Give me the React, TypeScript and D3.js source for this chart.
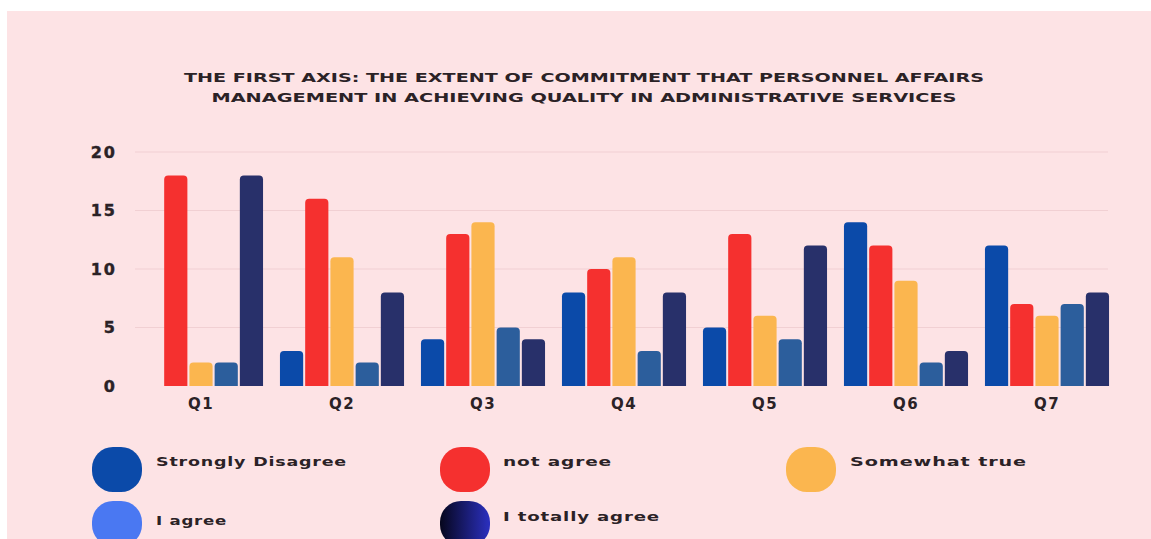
import React from "react";
import * as d3 from "d3";

const categories = ["Q1", "Q2", "Q3", "Q4", "Q5", "Q6", "Q7"];
const seriesNames = ["Strongly Disagree", "not agree", "Somewhat true", "I agree", "I totally agree"];
const stronglyDisagree = [0, 3, 4, 8, 5, 14, 12];
const notAgree = [18, 16, 13, 10, 13, 12, 7];
const somewhatTrue = [2, 11, 14, 11, 6, 9, 6];
const iAgree = [2, 2, 5, 3, 4, 2, 7];
const iTotallyAgree = [18, 8, 4, 8, 12, 3, 8];
const yTicks = [0, 5, 10, 15, 20];
const titleLines = [
  "THE FIRST AXIS: THE EXTENT OF COMMITMENT THAT PERSONNEL AFFAIRS",
  "MANAGEMENT IN ACHIEVING QUALITY IN ADMINISTRATIVE SERVICES",
];

const seriesValues = [stronglyDisagree, notAgree, somewhatTrue, iAgree, iTotallyAgree];
const barColors = ["#0b4aa9", "#f5302f", "#fbb64f", "#2c5e9c", "#28306a"];
const legendColors = ["#0b4aa9", "#f5302f", "#fbb64f", "#4a78f2", "url(#navyGrad)"];

const W = 1151;
const H = 539;
const FONT = "'DejaVu Sans', Verdana, sans-serif";
const TEXT = "#2b2226";

function topRounded(x: number, y: number, w: number, h: number, r: number) {
  if (h <= 0) return "";
  const rr = Math.min(r, h, w / 2);
  return `M${x},${y + h}V${y + rr}Q${x},${y} ${x + rr},${y}H${x + w - rr}Q${x + w},${y} ${x + w},${y + rr}V${y + h}Z`;
}

export default function App() {
  const y = d3.scaleLinear().domain([0, 20]).range([386, 152]);
  const x0 = d3
    .scaleBand<string>()
    .domain(categories)
    .range([130.5, 1117.5])
    .paddingInner(0.12)
    .paddingOuter(0.06);
  const x1 = d3
    .scaleBand<string>()
    .domain(seriesNames)
    .range([0, x0.bandwidth()])
    .paddingInner(0.08);

  const legendItems = [
    { x: 92, y: 447, tx: 156, ty: 466, len: 191 },
    { x: 440, y: 447, tx: 503, ty: 466, len: 109 },
    { x: 786, y: 447, tx: 850, ty: 466, len: 177 },
    { x: 92, y: 501, tx: 156, ty: 525, len: 71 },
    { x: 440, y: 501, tx: 503, ty: 521, len: 157 },
  ];

  return (
    <svg
      width={W}
      height={H}
      style={{ position: "absolute", left: 0, top: 0, display: "block", background: "#ffffff" }}
    >
      <defs>
        <linearGradient id="navyGrad" x1="0" x2="1" y1="0" y2="0">
          <stop offset="0%" stopColor="#06061c" />
          <stop offset="100%" stopColor="#2b30c0" />
        </linearGradient>
      </defs>
      <rect x={7} y={11} width={W - 7} height={H - 11} fill="#fde3e5" />

      {titleLines.map((t, i) => (
        <text
          key={i}
          x={584}
          y={82 + i * 20}
          textAnchor="middle"
          fontFamily={FONT}
          fontWeight="bold"
          fontSize={12.5}
          fill={TEXT}
          textLength={i === 0 ? 800 : 745}
          lengthAdjust="spacingAndGlyphs"
        >
          {t}
        </text>
      ))}

      {yTicks.map((t) => (
        <g key={t}>
          {t > 0 && (
            <line x1={135} x2={1108} y1={y(t)} y2={y(t)} stroke="#f1d0d3" strokeWidth={1.2} />
          )}
          <text
            x={117}
            y={y(t)}
            dy="0.36em"
            textAnchor="end"
            fontFamily={FONT}
            fontWeight="bold"
            fontSize={16}
            letterSpacing={2}
            fill={TEXT}
            stroke={TEXT}
            strokeWidth={0.4}
          >
            {t}
          </text>
        </g>
      ))}

      {categories.map((c, ci) => (
        <g key={c} transform={`translate(${x0(c)},0)`}>
          {seriesNames.map((s, si) => {
            const v = seriesValues[si][ci];
            const bx = x1(s) as number;
            const top = y(v);
            return (
              <path
                key={s}
                d={topRounded(bx, top, x1.bandwidth(), y(0) - top, 4)}
                fill={barColors[si]}
              />
            );
          })}
          <text
            x={x0.bandwidth() / 2}
            y={409}
            textAnchor="middle"
            fontFamily={FONT}
            fontWeight="bold"
            fontSize={15}
            letterSpacing={1.5}
            fill={TEXT}
          >
            {c}
          </text>
        </g>
      ))}

      {seriesNames.map((s, i) => {
        const it = legendItems[i];
        return (
          <g key={s}>
            <rect x={it.x} y={it.y} width={50} height={45} rx={21} ry={21} fill={legendColors[i]} />
            <text
              x={it.tx}
              y={it.ty}
              fontFamily={FONT}
              fontWeight="bold"
              fontSize={13}
              letterSpacing={0.6}
              fill={TEXT}
              textLength={it.len}
              lengthAdjust="spacingAndGlyphs"
            >
              {s}
            </text>
          </g>
        );
      })}
    </svg>
  );
}
